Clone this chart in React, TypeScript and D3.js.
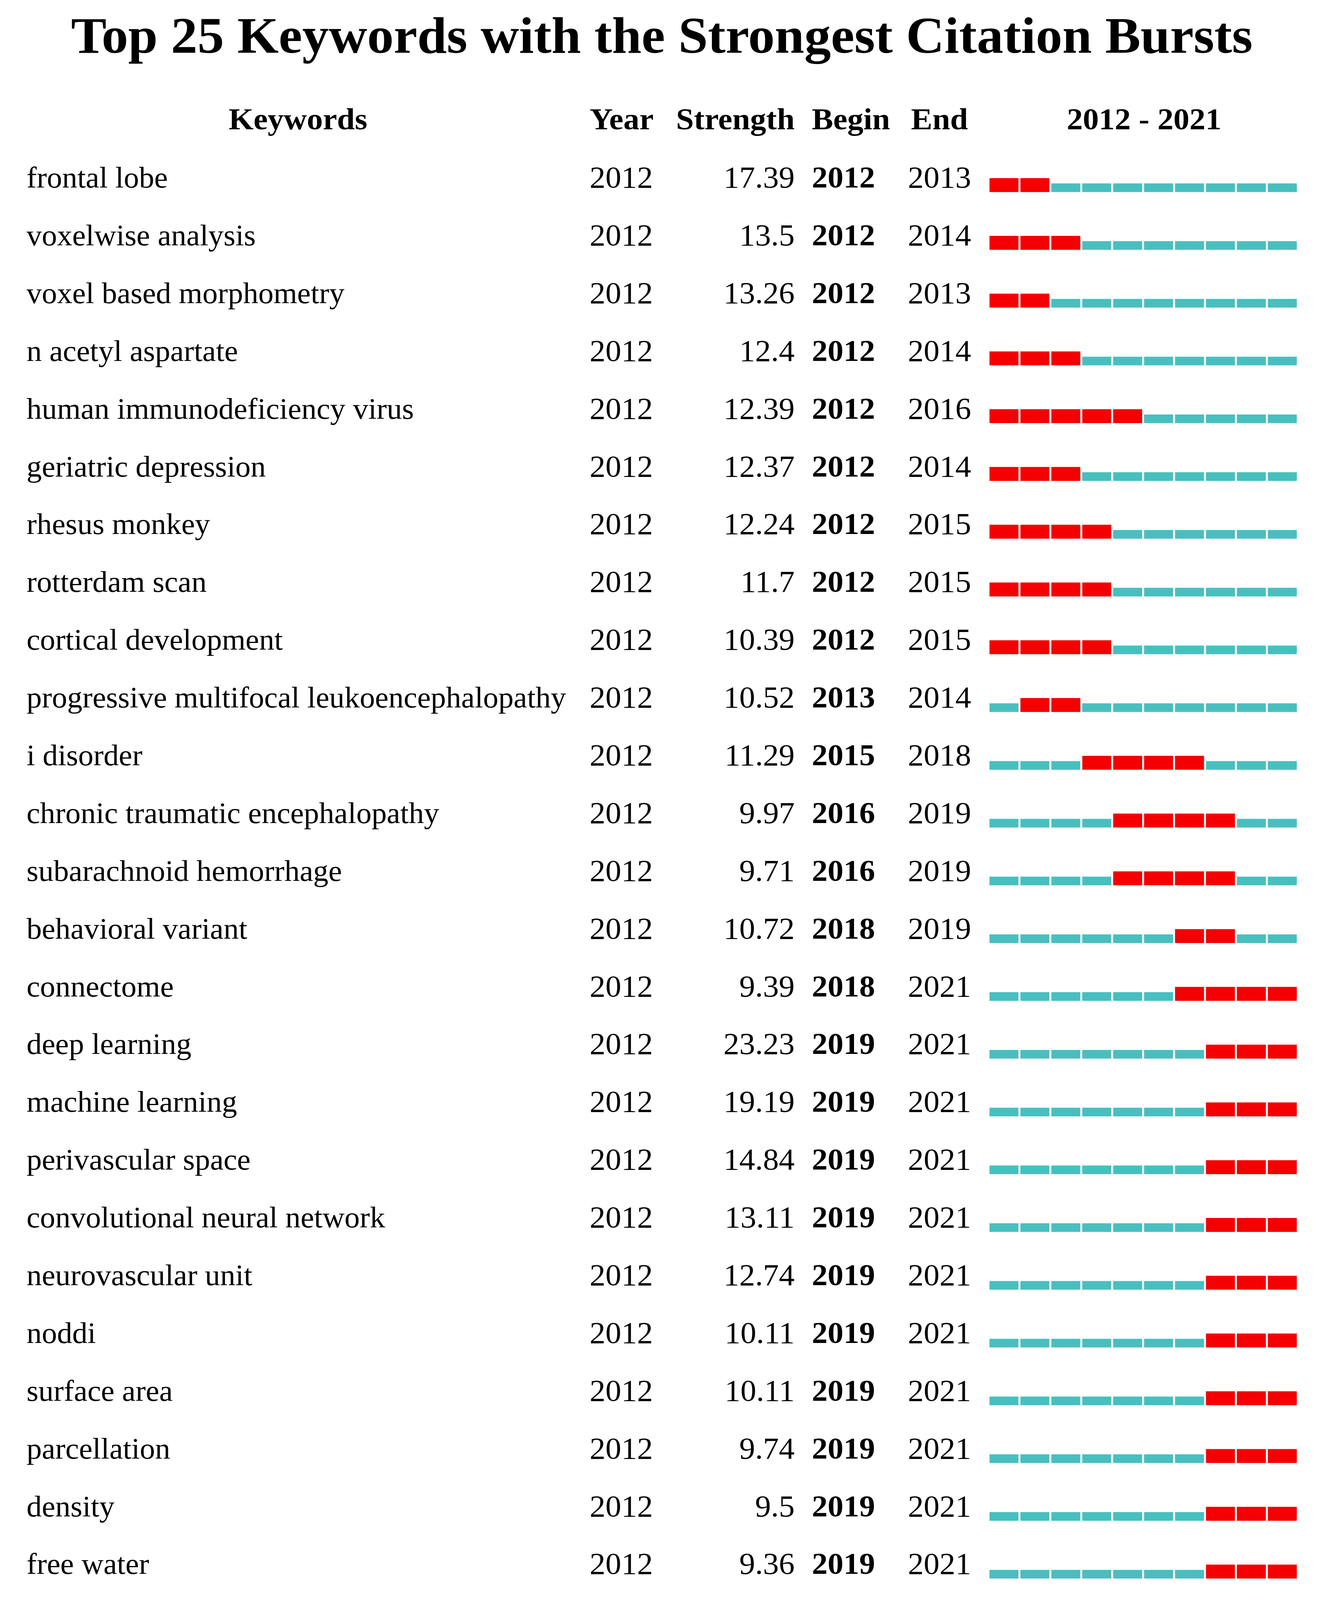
import React from 'react';
import * as d3 from 'd3';

const keywords = [
  'frontal lobe', 'voxelwise analysis', 'voxel based morphometry', 'n acetyl aspartate',
  'human immunodeficiency virus', 'geriatric depression', 'rhesus monkey', 'rotterdam scan',
  'cortical development', 'progressive multifocal leukoencephalopathy', 'i disorder',
  'chronic traumatic encephalopathy', 'subarachnoid hemorrhage', 'behavioral variant',
  'connectome', 'deep learning', 'machine learning', 'perivascular space',
  'convolutional neural network', 'neurovascular unit', 'noddi', 'surface area',
  'parcellation', 'density', 'free water',
];
const years = keywords.map(() => 2012);
const strengths = [
  '17.39', '13.5', '13.26', '12.4', '12.39', '12.37', '12.24', '11.7', '10.39', '10.52',
  '11.29', '9.97', '9.71', '10.72', '9.39', '23.23', '19.19', '14.84', '13.11', '12.74',
  '10.11', '10.11', '9.74', '9.5', '9.36',
];
const begins = [
  2012, 2012, 2012, 2012, 2012, 2012, 2012, 2012, 2012, 2013, 2015, 2016, 2016, 2018, 2018,
  2019, 2019, 2019, 2019, 2019, 2019, 2019, 2019, 2019, 2019,
];
const ends = [
  2013, 2014, 2013, 2014, 2016, 2014, 2015, 2015, 2015, 2014, 2018, 2019, 2019, 2019, 2021,
  2021, 2021, 2021, 2021, 2021, 2021, 2021, 2021, 2021, 2021,
];
const timeline = d3.range(2012, 2022);

const W = 3383;
const H = 4249;
const RED = '#f50000';
const CYAN = '#48bfbf';
const FONT = '"Liberation Serif", "Times New Roman", serif';

export default function App() {
  const rowY = d3.scaleLinear().domain([0, keywords.length - 1]).range([498, 4180]);
  const x = d3.scaleLinear().domain([2012, 2022]).range([2534, 3326]);
  const gap = 5;
  const numSize = 81;
  const kwSize = 78;

  // stretch the 3383x4249 drawing over whatever viewport the browser gives
  return (
    <svg viewBox={`0 0 ${W} ${H}`} preserveAspectRatio="none"
      style={{ position: 'fixed', left: 0, top: 0, width: '100vw', height: '100vh', background: '#fff' }}
      fontFamily={FONT}>
      <rect width={W} height={H} fill="#fff" />
      <text x={1695} y={140} textAnchor="middle" fontSize={136} fontWeight="bold">
        Top 25 Keywords with the Strongest Citation Bursts
      </text>
      <g fontSize={82} fontWeight="bold">
        <text x={763} y={343} textAnchor="middle">Keywords</text>
        <text x={1510} y={343}>Year</text>
        <text x={2035} y={343} textAnchor="end">Strength</text>
        <text x={2079} y={343}>Begin</text>
        <text x={2333} y={343}>End</text>
        <text x={(x(2012) + x(2022)) / 2} y={343} textAnchor="middle">2012 - 2021</text>
      </g>
      {keywords.map((k, i) => {
        const y = rowY(i);
        return (
          <g key={k}>
            <text x={68} y={y} fontSize={kwSize}>{k}</text>
            <text x={1510} y={y} fontSize={numSize}>{years[i]}</text>
            <text x={2035} y={y} fontSize={numSize} textAnchor="end">{strengths[i]}</text>
            <text x={2079} y={y} fontSize={numSize} fontWeight="bold">{begins[i]}</text>
            <text x={2325} y={y} fontSize={numSize}>{ends[i]}</text>
            {timeline.map((t) => {
              const burst = t >= begins[i] && t <= ends[i];
              const h = burst ? 37 : 23;
              return (
                <rect key={t} x={x(t)} y={y + 12 - h} width={x(t + 1) - x(t) - gap} height={h}
                  fill={burst ? RED : CYAN} />
              );
            })}
          </g>
        );
      })}
    </svg>
  );
}
